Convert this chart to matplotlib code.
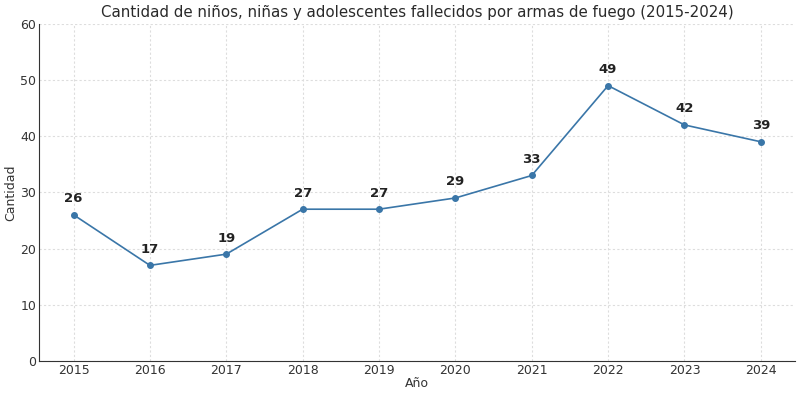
import matplotlib
matplotlib.use("Agg")
import matplotlib.pyplot as plt

years = [2015, 2016, 2017, 2018, 2019, 2020, 2021, 2022, 2023, 2024]
deaths = [26, 17, 19, 27, 27, 29, 33, 49, 42, 39]

fig = plt.figure(figsize=(8, 3.97), dpi=100)
ax = fig.add_axes([0.049, 0.091, 0.945, 0.849])

ax.plot(years, deaths, color="#3a76a8", lw=1.2, marker="o", ms=4)
for x, v in zip(years, deaths):
    ax.annotate(str(v), (x, v), textcoords="offset points", xytext=(0, 9),
                ha="center", fontsize=9.5, fontweight="bold", color="#222222")

ax.set_ylim(0, 60)
ax.set_xticks(years)
ax.grid(True, ls=(0, (2, 2)), color="#dddddd", lw=0.8)
ax.set_axisbelow(True)
for s in ("top", "right"):
    ax.spines[s].set_visible(False)
for s in ("left", "bottom"):
    ax.spines[s].set_color("#333333")
ax.tick_params(length=0, labelsize=9, colors="#333333", pad=2)
ax.set_xlabel("Año", fontsize=9, color="#333333", labelpad=0)
ax.set_ylabel("Cantidad", fontsize=9, color="#333333", labelpad=2)
ax.set_title("Cantidad de niños, niñas y adolescentes fallecidos por armas de fuego (2015-2024)",
             fontsize=10.8, color="#2a2a2a", pad=5)

fig.savefig("out.png", dpi=100)
